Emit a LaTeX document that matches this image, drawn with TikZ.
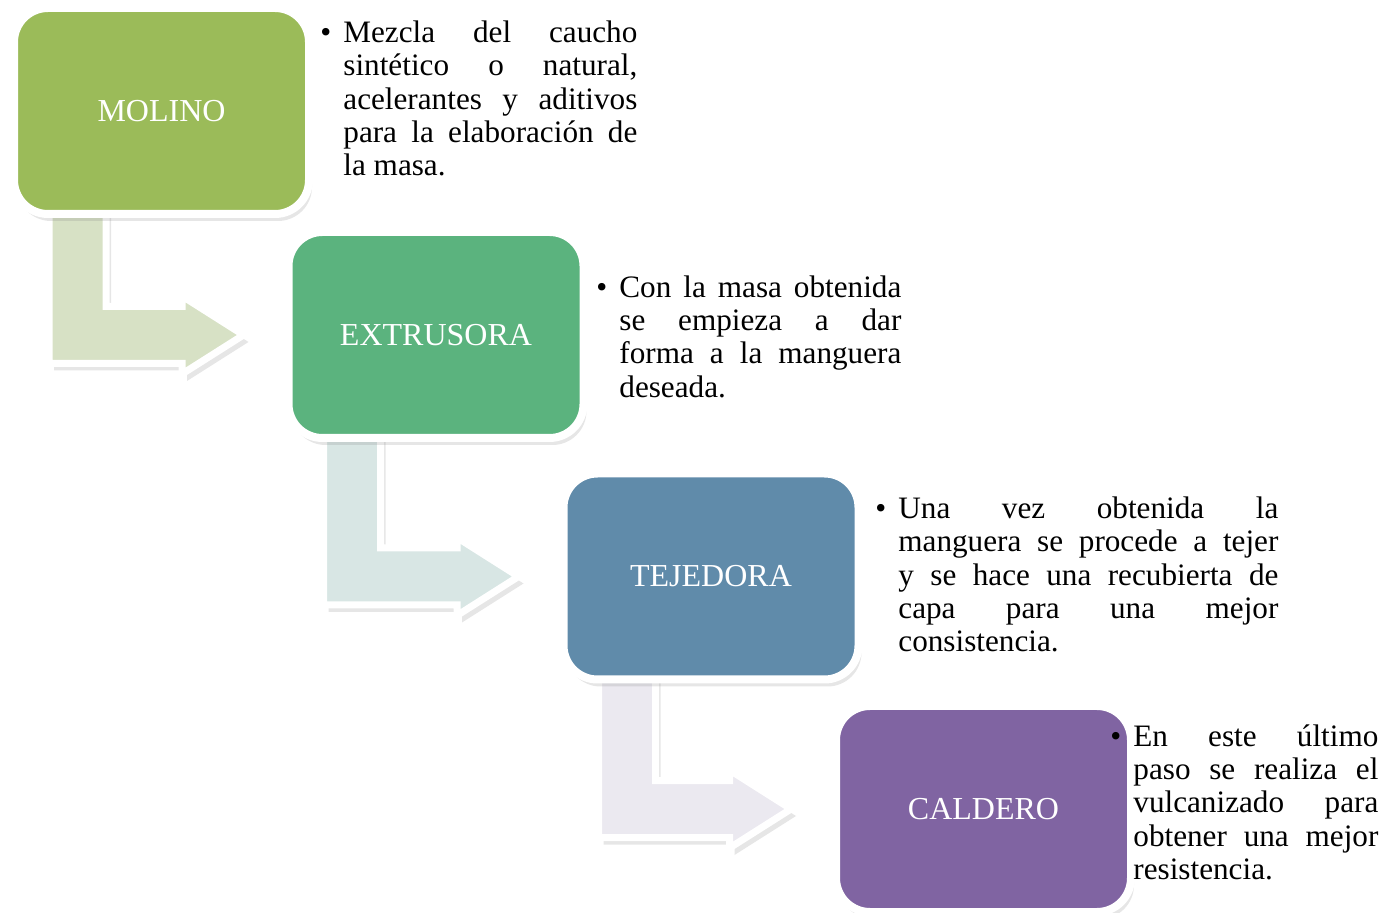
\documentclass[tikz,border=0pt]{standalone}
\usepackage{fontspec}
\setmainfont{Liberation Serif}
\usetikzlibrary{calc,shadows,backgrounds}
\definecolor{molino}{RGB}{155,187,89}
\definecolor{extrusora}{RGB}{91,179,126}
\definecolor{tejedora}{RGB}{96,139,170}
\definecolor{caldero}{RGB}{128,100,162}
\definecolor{bendA}{RGB}{215,225,197}
\definecolor{bendB}{RGB}{216,230,228}
\definecolor{bendC}{RGB}{235,233,240}
\tikzset{
  stage/.style={rectangle, rounded corners=17pt, minimum width=147.5pt, minimum height=103pt,
    draw=white, line width=4pt, text=white, font=\fontsize{16}{19}\selectfont,
    general shadow={shadow scale=1.045, opacity=.07},
    drop shadow={shadow xshift=1.5pt, shadow yshift=-3.5pt, opacity=.2}},
  bentarrow/.style={draw=white, line width=3.5pt,
    drop shadow={shadow xshift=2.5pt, shadow yshift=-3.5pt, opacity=.2}},
  note/.style={anchor=north west, inner sep=0pt, align=justify, text width=#1,
    execute at begin node={\def\notewidth{#1}}, font=\fontsize{15.6}{16.65}\selectfont}
}
\newcommand{\jline}[1]{\makebox[\notewidth][s]{#1}\\}
\newcommand{\bul}{\strut\llap{\textbullet\hspace{6pt}}}

\begin{document}
\begin{tikzpicture}[x=0.5pt, y=-0.5pt]
  \useasboundingbox (0,0) rectangle (1397,913);

  % Stages
  \foreach \k/\x/\y/\c/\t in {1/161.5/111/molino/MOLINO, 2/436/335/extrusora/EXTRUSORA,
      3/711/576.5/tejedora/TEJEDORA, 4/983.5/809/caldero/CALDERO} {
    \node[stage, fill=\c] (s\k) at (\x,\y) {\t};
  }

  % Bent arrows, behind the stages
  \begin{scope}[on background layer]
    \foreach \k/\c [evaluate = \k as \j using (int(\k - 1))] in {2/bendA, 3/bendB, 4/bendC} {
      \path[bentarrow, fill=\c] let \p1 = (s\j.south west), \p2 = (s\k.west) in
        (\x1+19.5pt,\y1+10pt) -- (\x1+48pt,\y1+10pt) -- (\x1+48pt,\y2+14.25pt)
        -- (\x2-51.25pt,\y2+14.25pt) -- (\x2-51.25pt,\y2+19.5pt) -- (\x2-20.5pt,\y2)
        -- (\x2-51.25pt,\y2-19.5pt) -- (\x2-51.25pt,\y2-14.25pt)
        -- (\x1+19.5pt,\y2-14.25pt) -- cycle;
    }
  \end{scope}

  % Descriptions
  \node[note=147pt] (d1) at (343,18.7) {%
    \jline{\bul Mezcla del caucho}
    \jline{sintético o natural,}
    \jline{acelerantes y aditivos}
    \jline{para la elaboración de}
    la masa.};
  \node[note=141pt] (d2) at (619,273.4) {%
    \jline{\bul Con la masa obtenida}
    \jline{se empieza a dar}
    \jline{forma a la manguera}
    deseada.};
  \node[note=190pt] (d3) at (898,494.7) {%
    \jline{\bul Una vez obtenida la}
    \jline{manguera se procede a tejer}
    \jline{y se hace una recubierta de}
    \jline{capa para una mejor}
    consistencia.};
  \node[note=122.5pt] (d4) at (1133,722.5) {%
    \jline{\bul En este último}
    \jline{paso se realiza el}
    \jline{vulcanizado para}
    \jline{obtener una mejor}
    resistencia.};
\end{tikzpicture}
\end{document}
